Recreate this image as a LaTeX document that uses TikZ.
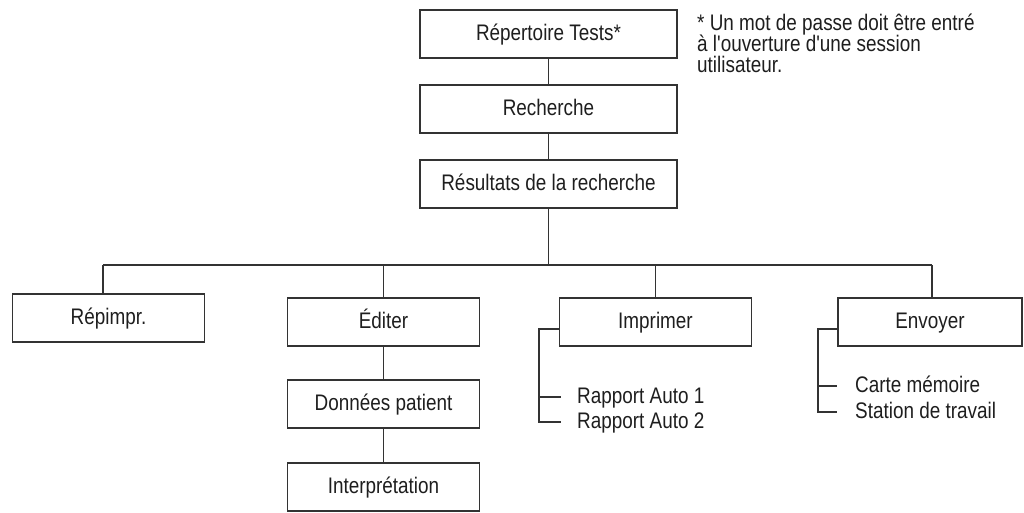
\documentclass[tikz,border=0pt]{standalone}
\usepackage{fontspec}
\setmainfont{Liberation Sans}[FakeStretch=0.84, Ligatures=TeXOff]
\definecolor{linec}{HTML}{333333}
\definecolor{textc}{HTML}{1E1E1E}
\begin{document}
\begin{tikzpicture}[x=1pt,y=-1pt,
  every node/.style={font=\fontsize{22.5}{26}\selectfont, text=textc},
  conn/.style={draw=linec, line width=1.4pt},
  box/.style={draw=linec, line width=1.4pt, minimum height=48pt, inner sep=0pt,
              text height=16pt, text depth=4pt},
  wide/.style={box, minimum width=257pt},
  mid/.style={box, minimum width=192pt},
  item/.style={inner sep=0pt, anchor=west, text height=16pt, text depth=4pt},
  note/.style={inner sep=0pt, anchor=base west}]
\useasboundingbox (0,0) rectangle (1024,512);
% top chain
\node[wide] (rep)  at (548.5,34)  {Répertoire Tests*};
\node[wide] (rech) at (548.5,109) {Recherche};
\node[wide] (res)  at (548.5,184) {Résultats de la recherche};
% footnote
\node[note] (n1) at (697,30) {* Un mot de passe doit être entré};
\node[note] (n2) at (697,51) {à l'ouverture d'une session};
\node[note] (n3) at (697,72) {utilisateur.};
% second level
\node[mid] (repimpr)  at (108.5,318) {Répimpr.};
\node[mid] (editer)   at (383.5,322) {Éditer};
\node[mid] (donnees)  at (383.5,404) {Données patient};
\node[mid] (interp)   at (383.5,487) {Interprétation};
\node[mid] (imprimer) at (655.5,322) {Imprimer};
\node[box, minimum width=184pt] (envoyer) at (930,322) {Envoyer};
% list items
\node[item] (rap1) at (577,397) {Rapport Auto 1};
\node[item] (rap2) at (577,422) {Rapport Auto 2};
\node[item] (carte) at (855,386) {Carte mémoire};
\node[item] (stat)  at (855,412) {Station de travail};
% connectors
\coordinate (busL) at (103,265);
\coordinate (busR) at (932,265);
\draw[conn] (rep) -- (rech);
\draw[conn] (rech) -- (res);
\draw[conn] (res.south) -- (res.south |- busL);
\draw[conn] (busL) -- (busR);
\draw[conn] (busL) -- (busL |- repimpr.north);
\draw[conn] (editer.north) -- (editer.north |- busL);
\draw[conn] (imprimer.north) -- (imprimer.north |- busL);
\draw[conn] (busR) -- (busR |- envoyer.north);
\draw[conn] (editer) -- (donnees);
\draw[conn] (donnees) -- (interp);
% side brackets
\coordinate (ib) at (539,329);
\draw[conn] (imprimer.west |- ib) -- (ib) |- ([xshift=-16pt]rap2.west);
\draw[conn] (ib |- rap1.west) -- ([xshift=-16pt]rap1.west);
\coordinate (eb) at (818,329);
\draw[conn] (envoyer.west |- eb) -- (eb) |- ([xshift=-18pt]stat.west);
\draw[conn] (eb |- carte.west) -- ([xshift=-18pt]carte.west);
\end{tikzpicture}
\end{document}
